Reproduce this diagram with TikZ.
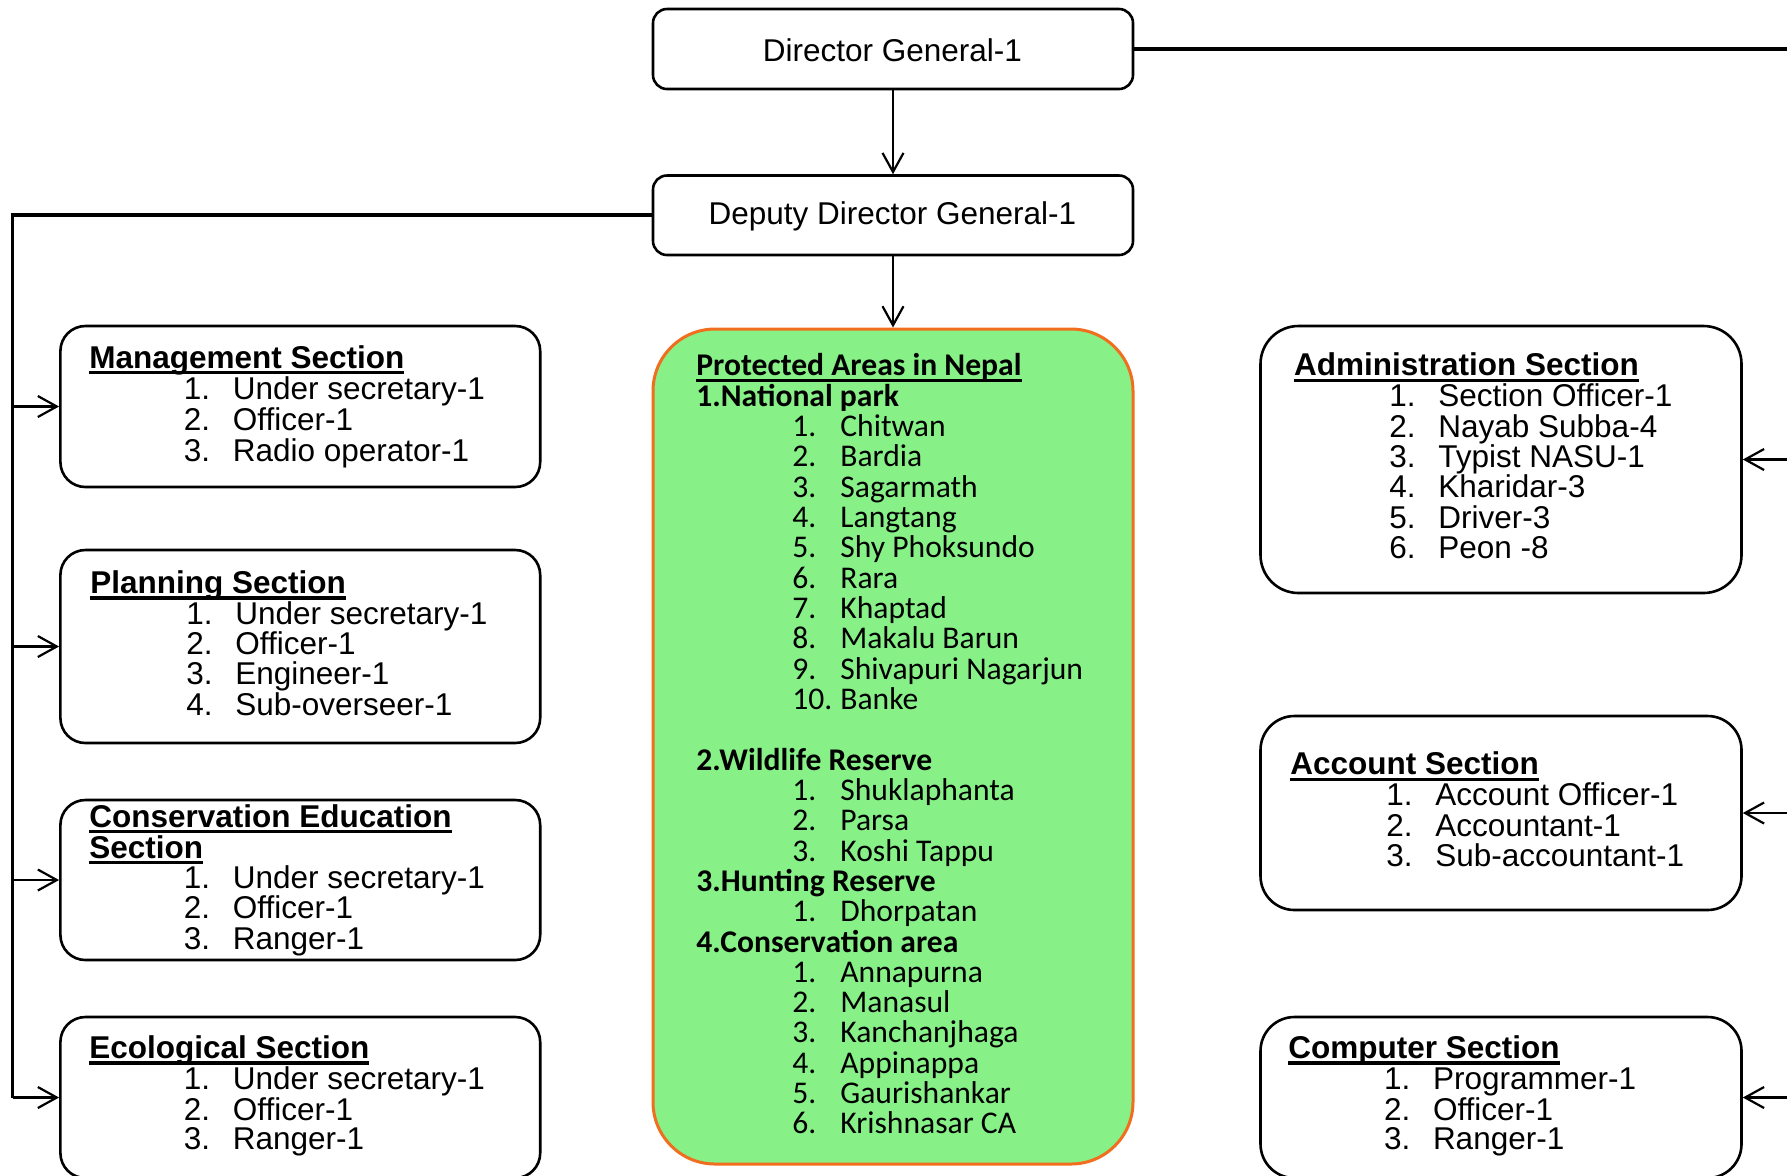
\documentclass[tikz,border=0pt]{standalone}
\usepackage{fontspec}
\setmainfont{Liberation Sans}
\newfontfamily\calibrifont{Carlito}
\usetikzlibrary{arrows.meta,fit}
\definecolor{paorange}{RGB}{240,110,30}
\definecolor{pagreen}{RGB}{135,240,135}
\newsavebox\ulbox
\newcommand\ulhead[1]{\sbox\ulbox{\bfseries #1}\rlap{\rule[-3.1pt]{\wd\ulbox}{1.7pt}}\usebox\ulbox}
\newcommand\numit[2]{\makebox[24.5pt][l]{#1}#2}
\newcommand\pnum[2]{\makebox[24pt][l]{#1}#2}
\begin{document}
\begin{tikzpicture}[x=0.5pt,y=-0.5pt,
  secbox/.style={draw, line width=1.3pt, rounded corners=12.5pt, inner sep=0pt},
  tx/.style={anchor=west, inner sep=0pt, text height=0.72em, text depth=0pt, font=\fontsize{15.75}{18}\selectfont},
  ptx/.style={anchor=west, inner sep=0pt, text height=0.72em, text depth=0pt, font=\calibrifont\fontsize{15.8}{18}\selectfont},
  conn/.style={line width=1.1pt, -{Straight Barb[length=9.5pt,width=10.5pt,line width=1.1pt]}},
  trunk/.style={line width=1.8pt}]
\useasboundingbox (0,0) rectangle (1787,1175);
\clip (0,0) rectangle (1787,1175);

% top boxes
\node[secbox, rounded corners=7pt, fit={(653,9) (1133,89)}] (dg) {};
\node[secbox, rounded corners=7pt, fit={(653,175.5) (1133,255)}] (ddg) {};

% protected areas box
\node[fit={(653,329) (1133,1164)}, draw=paorange, fill=pagreen, line width=1.5pt, rounded corners=31pt, inner sep=0pt] (pa) {};

% left boxes
\node[secbox, fit={(60.4,326) (540.2,487)}] (mgmt) {};
\node[secbox, fit={(60.4,550) (540.2,743)}] (plan) {};
\node[secbox, fit={(60.4,800) (540.2,960)}] (cons) {};
\node[secbox, fit={(60.4,1017) (540.2,1178)}] (eco) {};

% right boxes
\node[secbox, rounded corners=19pt, fit={(1260.5,326) (1741.5,593)}] (adm) {};
\node[secbox, rounded corners=17pt, fit={(1260.5,716) (1741.5,910)}] (acc) {};
\node[secbox, rounded corners=17pt, fit={(1260.5,1017) (1741.5,1178)}] (comp) {};

% connectors
\draw[conn] (dg.south) -- (ddg.north);
\draw[conn] (ddg.south) -- (pa.north);
\coordinate (lbot) at (12.5,1097.5);
\draw[trunk] (ddg.west) -| (lbot);
\draw[conn] (lbot |- mgmt.west) -- (mgmt.west);
\draw[conn] (lbot |- plan.west) -- (plan.west);
\draw[conn] (lbot |- cons.west) -- (cons.west);
\draw[conn] (lbot) -- (eco.west);
\coordinate (rtop) at (1800,49);
\coordinate (rbot) at (1800,1097.5);
\draw[trunk] (dg.east) -- (rtop) -- (rbot);
\draw[conn] (rbot |- adm.east) -- (adm.east);
\draw[conn] (rbot |- acc.east) -- (acc.east);
\draw[conn] (rbot) -- (comp.east);

\begin{scope}[shift={(0,4)}]
\node[tx, anchor=center] (dgt) at (892.4,50) {Director General-1};
\node[tx, anchor=center] (ddgt) at (892.4,213) {Deputy Director General-1};

% management text
\node[tx] (m0) at (89,357) {\ulhead{Management Section}};
\node[tx] (m1) at (183.5,388.6) {\numit{1.}{Under secretary-1}};
\node[tx] (m2) at (183.5,419.4) {\numit{2.}{Officer-1}};
\node[tx] (m3) at (183.5,450.2) {\numit{3.}{Radio operator-1}};

% planning text
\node[tx] (p0) at (90,582.4) {\ulhead{Planning Section}};
\node[tx] (p1) at (186,613.2) {\numit{1.}{Under secretary-1}};
\node[tx] (p2) at (186,642.8) {\numit{2.}{Officer-1}};
\node[tx] (p3) at (186,673.6) {\numit{3.}{Engineer-1}};
\node[tx] (p4) at (186,704.3) {\numit{4.}{Sub-overseer-1}};

% conservation education text
\node[tx] (c0) at (89,816) {\ulhead{Conservation Education}};
\node[tx] (c0b) at (89,846.8) {\ulhead{Section}};
\node[tx] (c1) at (183.5,877.6) {\numit{1.}{Under secretary-1}};
\node[tx] (c2) at (183.5,907.2) {\numit{2.}{Officer-1}};
\node[tx] (c3) at (183.5,938) {\numit{3.}{Ranger-1}};

% ecological text
\node[tx] (e0) at (89,1047.4) {\ulhead{Ecological Section}};
\node[tx] (e1) at (183.5,1078.2) {\numit{1.}{Under secretary-1}};
\node[tx] (e2) at (183.5,1108.9) {\numit{2.}{Officer-1}};
\node[tx] (e3) at (183.5,1138.6) {\numit{3.}{Ranger-1}};

% administration text
\node[tx] (a0) at (1293.6,364.7) {\ulhead{Administration Section}};
\node[tx] (a1) at (1389,395.5) {\numit{1.}{Section Officer-1}};
\node[tx] (a2) at (1389,426.2) {\numit{2.}{Nayab Subba-4}};
\node[tx] (a3) at (1389,455.9) {\numit{3.}{Typist NASU-1}};
\node[tx] (a4) at (1389,486.6) {\numit{4.}{Kharidar-3}};
\node[tx] (a5) at (1389,517.4) {\numit{5.}{Driver-3}};
\node[tx] (a6) at (1389,547) {\numit{6.}{Peon -8}};

% account text
\node[tx] (ac0) at (1290,763.6) {\ulhead{Account Section}};
\node[tx] (ac1) at (1386,794.4) {\numit{1.}{Account Officer-1}};
\node[tx] (ac2) at (1386,825.1) {\numit{2.}{Accountant-1}};
\node[tx] (ac3) at (1386,854.8) {\numit{3.}{Sub-accountant-1}};

% computer text
\node[tx] (cp0) at (1288,1047.4) {\ulhead{Computer Section}};
\node[tx] (cp1) at (1383.6,1078.2) {\numit{1.}{Programmer-1}};
\node[tx] (cp2) at (1383.6,1108.9) {\numit{2.}{Officer-1}};
\node[tx] (cp3) at (1383.6,1138.6) {\numit{3.}{Ranger-1}};

% protected areas text
\node[ptx] (pa0) at (696,364.7) {\ulhead{Protected Areas in Nepal}};
\node[ptx] (pa1) at (696,395.0) {\bfseries 1.National park};
\node[ptx] (pa2) at (792,425.3) {\pnum{1.}{Chitwan}};
\node[ptx] (pa3) at (792,455.7) {\pnum{2.}{Bardia}};
\node[ptx] (pa4) at (792,486.0) {\pnum{3.}{Sagarmath}};
\node[ptx] (pa5) at (792,516.3) {\pnum{4.}{Langtang}};
\node[ptx] (pa6) at (792,546.6) {\pnum{5.}{Shy Phoksundo}};
\node[ptx] (pa7) at (792,577.0) {\pnum{6.}{Rara}};
\node[ptx] (pa8) at (792,607.3) {\pnum{7.}{Khaptad}};
\node[ptx] (pa9) at (792,637.6) {\pnum{8.}{Makalu Barun}};
\node[ptx] (pa10) at (792,667.9) {\pnum{9.}{Shivapuri Nagarjun}};
\node[ptx] (pa11) at (792,698.2) {\pnum{10.}{Banke}};
\node[ptx] (pa13) at (696,758.9) {\bfseries 2.Wildlife Reserve};
\node[ptx] (pa14) at (792,789.2) {\pnum{1.}{Shuklaphanta}};
\node[ptx] (pa15) at (792,819.5) {\pnum{2.}{Parsa}};
\node[ptx] (pa16) at (792,849.8) {\pnum{3.}{Koshi Tappu}};
\node[ptx] (pa17) at (696,880.1) {\bfseries 3.Hunting Reserve};
\node[ptx] (pa18) at (792,910.5) {\pnum{1.}{Dhorpatan}};
\node[ptx] (pa19) at (696,940.8) {\bfseries 4.Conservation area};
\node[ptx] (pa20) at (792,971.1) {\pnum{1.}{Annapurna}};
\node[ptx] (pa21) at (792,1001.4) {\pnum{2.}{Manasul}};
\node[ptx] (pa22) at (792,1031.7) {\pnum{3.}{Kanchanjhaga}};
\node[ptx] (pa23) at (792,1062.1) {\pnum{4.}{Appinappa}};
\node[ptx] (pa24) at (792,1092.4) {\pnum{5.}{Gaurishankar}};
\node[ptx] (pa25) at (792,1122.7) {\pnum{6.}{Krishnasar CA}};
\end{scope}
\end{tikzpicture}
\end{document}
